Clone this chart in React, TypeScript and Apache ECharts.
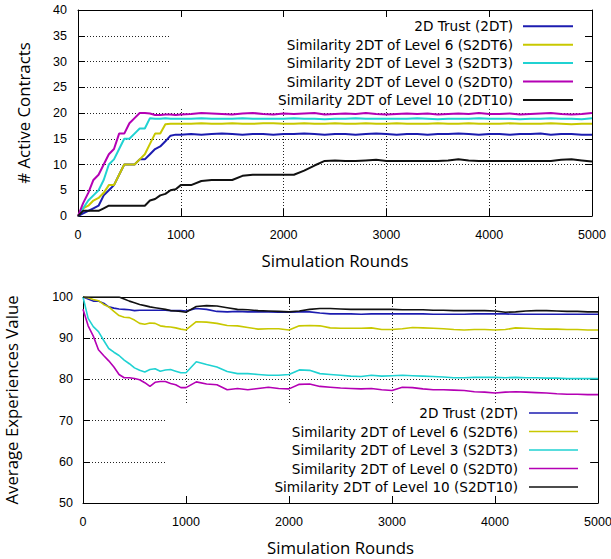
import React, { useEffect, useRef } from "react";
import * as echarts from "echarts";

const rounds = [0, 50, 100, 150, 200, 250, 300, 350, 400, 450, 500, 550, 600, 650, 700, 750, 800, 850, 900, 950, 1000,
  1100, 1200, 1300, 1400, 1500, 1600, 1700, 1800, 1900, 2000,
  2100, 2200, 2300, 2400, 2500, 2600, 2700, 2800, 2900, 3000,
  3100, 3200, 3300, 3400, 3500, 3600, 3700, 3800, 3900, 4000,
  4100, 4200, 4300, 4400, 4500, 4600, 4700, 4800, 4900, 5000];

const seriesColors = ["#1c1cb0", "#c8c800", "#20d2d2", "#b400b4", "#111111"];

const topNames = [
  "2D Trust (2DT)",
  "Similarity 2DT of Level 6 (S2DT6)",
  "Similarity 2DT of Level 3 (S2DT3)",
  "Similarity 2DT of Level 0 (S2DT0)",
  "Similarity 2DT of Level 10 (2DT10)",
];
const bottomNames = [
  "2D Trust (2DT)",
  "Similarity 2DT of Level 6 (S2DT6)",
  "Similarity 2DT of Level 3 (S2DT3)",
  "Similarity 2DT of Level 0 (S2DT0)",
  "Similarity 2DT of Level 10 (S2DT10)",
];

const xTitle = "Simulation Rounds";
const topYTitle = "# Active Contracts";
const bottomYTitle = "Average Experiences Value";

// Top chart: # Active Contracts
const active2DT = [0, 0.5, 1, 1.5, 2, 4, 5, 6, 8, 10, 10, 10, 11, 11, 12, 13, 13.5, 14.5, 15.6, 15.8, 15.8,
  15.9, 15.8, 15.9, 16.0, 15.9, 15.8, 15.9, 15.9, 15.8, 15.9,
  15.9, 16.0, 15.9, 15.8, 15.9, 15.9, 15.8, 15.9, 16.0, 15.9,
  15.8, 15.9, 15.9, 15.8, 15.9, 15.9, 16.0, 15.9, 15.8, 15.9,
  15.9, 15.8, 15.9, 15.9, 16.0, 15.8, 15.9, 15.9, 15.8, 15.8];
const activeS2DT6 = [0, 1.5, 2, 3, 3.5, 4.5, 6, 6, 8, 10, 10, 10, 11, 12, 14, 16, 16, 17.8, 17.9, 17.9, 17.9,
  17.9, 18.0, 17.9, 17.9, 18.0, 17.9, 17.9, 18.0, 18.0, 17.9,
  17.9, 18.0, 17.9, 17.9, 18.0, 17.9, 17.9, 18.0, 17.9, 17.9,
  18.0, 17.9, 17.9, 17.9, 18.0, 17.9, 17.9, 18.0, 17.9, 17.9,
  17.9, 18.0, 17.9, 17.9, 17.9, 18.0, 17.9, 17.8, 17.9, 17.9];
const activeS2DT3 = [0, 1.5, 3, 4, 5, 7, 10, 11, 13, 15, 15, 16, 17, 17, 19, 18.9, 18.9, 19, 18.9, 18.9, 18.9,
  18.9, 19.0, 18.9, 18.9, 18.9, 19.0, 18.9, 18.9, 18.9, 18.9,
  19.0, 18.9, 18.9, 18.8, 18.9, 18.9, 19.0, 18.9, 18.9, 18.9,
  18.9, 18.9, 19.0, 18.9, 18.8, 18.9, 18.9, 18.9, 19.0, 18.9,
  18.9, 18.9, 18.8, 18.9, 18.9, 19.0, 18.9, 18.9, 18.8, 19.0];
const activeS2DT0 = [0, 2.5, 4.5, 7, 8, 10, 12, 13, 16, 16, 18, 19, 20, 20, 19.9, 19.6, 19.6, 19.7, 19.7, 19.6, 19.7,
  19.8, 20.0, 19.9, 19.8, 19.7, 19.9, 20.0, 19.8, 19.7, 19.9,
  19.8, 19.9, 20.0, 19.7, 19.8, 19.9, 19.8, 20.0, 19.8, 19.7,
  19.8, 19.9, 19.8, 19.9, 19.7, 19.8, 19.9, 19.8, 20.0, 19.8,
  19.8, 19.9, 19.7, 19.8, 19.9, 20.0, 19.8, 19.7, 19.8, 20.0];
const active2DT10 = [0, 1, 1, 1, 1, 1.5, 2, 2, 2, 2, 2, 2, 2, 2, 3, 3.3, 4, 4.3, 5, 5.2, 6,
  6, 6.8, 7, 7, 7, 7.8, 8, 8, 8, 8,
  8, 8.8, 9.8, 10.7, 10.8, 10.7, 10.7, 10.8, 10.9, 10.7,
  10.7, 10.7, 10.7, 10.7, 10.7, 10.8, 11, 10.8, 10.7, 10.7,
  10.7, 10.7, 10.7, 10.7, 10.7, 10.7, 10.9, 11, 10.8, 10.6];

// Bottom chart: Average Experiences Value
const exp2DT = [100, 99.5, 99, 99, 98.5, 97.6, 97.3, 97.1, 97.0, 96.9, 96.7, 96.8, 96.8, 96.8, 96.8, 96.8, 96.8, 96.7, 96.7, 96.7, 96.6,
  97.2, 97.0, 96.5, 96.4, 96.5, 96.4, 96.4, 96.4, 96.3, 96.3,
  96.4, 96.4, 96.1, 95.9, 95.9, 95.9, 95.8, 95.9, 95.9, 95.9,
  95.9, 95.9, 95.9, 95.8, 95.8, 95.8, 95.8, 95.9, 95.9, 95.9,
  95.9, 95.8, 95.8, 95.8, 95.8, 95.8, 95.8, 95.8, 95.8, 95.8];
const expS2DT6 = [100, 99.8, 99.4, 99.1, 98.2, 97.6, 96.5, 95.5, 95.1, 95.0, 94.4, 93.6, 93.4, 93.7, 93.6, 93.0, 92.8, 92.7, 92.5, 92.2, 92.0,
  94.0, 93.9, 93.6, 93.1, 93.0, 92.6, 92.2, 92.3, 92.3, 92.0,
  93.0, 93.1, 93.0, 92.5, 92.4, 92.4, 92.4, 92.5, 92.1, 92.1,
  92.3, 92.6, 92.5, 92.4, 92.3, 92.1, 92.0, 92.1, 92.1, 92.0,
  92.1, 92.5, 92.4, 92.3, 92.2, 92.2, 92.1, 92.1, 92.0, 92.0];
const expS2DT3 = [100, 94.8, 92.8, 91.6, 89.5, 87.5, 86.6, 85.8, 84.7, 83.8, 82.8, 82.2, 81.8, 82.4, 82.6, 82.0, 82.3, 82.4, 82.0, 81.6, 81.6,
  84.3, 83.6, 83.0, 81.9, 81.4, 81.4, 81.2, 81.0, 81.0, 81.2,
  82.3, 82.2, 81.4, 81.2, 81.0, 80.8, 80.7, 81.0, 80.8, 80.9,
  81.0, 80.9, 80.8, 80.7, 80.6, 80.4, 80.4, 80.5, 80.5, 80.5,
  80.4, 80.5, 80.4, 80.4, 80.3, 80.3, 80.2, 80.2, 80.2, 80.2];
const expS2DT0 = [97, 93, 90.5, 87.2, 85.8, 84.5, 83.0, 81.2, 80.4, 80.4, 80.2, 79.9, 79.2, 78.3, 79.3, 79.5, 79.5, 79.0, 78.7, 78.0, 78.0,
  79.4, 78.9, 78.7, 77.5, 77.8, 77.5, 77.8, 78.1, 77.8, 77.7,
  78.8, 78.9, 78.3, 78.1, 77.9, 77.8, 77.7, 77.8, 77.5, 77.3,
  78.1, 78.0, 77.7, 77.5, 77.5, 77.4, 77.3, 77.0, 76.9, 76.7,
  76.9, 77.0, 76.9, 76.8, 76.7, 76.5, 76.4, 76.4, 76.3, 76.3];
const expS2DT10 = [100, 100, 100, 100, 100, 100, 100, 100, 99.5, 99.0, 98.6, 98.2, 97.9, 97.6, 97.4, 97.2, 97.0, 96.7, 96.6, 96.5, 96.3,
  97.7, 97.9, 97.8, 97.4, 97.0, 96.9, 96.7, 96.6, 96.5, 96.4,
  96.6, 97.0, 97.2, 97.2, 97.1, 97.0, 97.0, 97.0, 97.0, 97.0,
  96.9, 96.9, 96.9, 96.8, 96.8, 96.7, 96.7, 96.7, 96.7, 96.6,
  96.3, 96.4, 96.6, 96.7, 96.7, 96.6, 96.5, 96.5, 96.4, 96.4];

const topValues = [active2DT, activeS2DT6, activeS2DT3, activeS2DT0, active2DT10];
const bottomValues = [exp2DT, expS2DT6, expS2DT3, expS2DT0, expS2DT10];

const TICK_FONT = "'Liberation Sans', Arial, sans-serif";
const TITLE_FONT = "'Open Sans', 'Noto Sans', sans-serif";
const KEY_FONT = "'DejaVu Sans', sans-serif";

export default function App() {
  const ref = useRef<HTMLDivElement>(null);

  useEffect(() => {
    const chart = echarts.init(ref.current!, null, { renderer: "svg" });

    const gridLine = { show: true, lineStyle: { color: "#222", width: 1, type: [1, 2] as any } };
    const frameLine = { show: true, onZero: false, lineStyle: { color: "#000", width: 1 } };
    const tickIn = { show: true, inside: true, length: 7, lineStyle: { color: "#000", width: 1 } };
    const tickLabel = (margin: number) => ({
      show: true, margin, color: "#000", fontFamily: TICK_FONT, fontSize: 12.5,
      formatter: (v: number) => String(v),
    });
    const titleStyle = { color: "#000", fontFamily: TITLE_FONT, fontSize: 16.8 };

    const mkX = (gridIndex: number, main: boolean) => ({
      type: "value", gridIndex, min: 0, max: 5000, interval: 1000,
      position: main ? "bottom" : "top",
      axisLine: frameLine, axisTick: tickIn,
      axisLabel: main ? tickLabel(12) : { show: false },
      splitLine: main ? gridLine : { show: false },
      name: main ? xTitle : "", nameLocation: "middle", nameGap: 36,
      nameTextStyle: titleStyle,
    });
    const mkY = (gridIndex: number, main: boolean, min: number, max: number, interval: number, name: string, nameGap: number, margin: number) => ({
      type: "value", gridIndex, min, max, interval,
      position: main ? "left" : "right",
      axisLine: frameLine, axisTick: tickIn,
      axisLabel: main ? tickLabel(margin) : { show: false },
      splitLine: main ? gridLine : { show: false },
      name: main ? name : "", nameLocation: "middle", nameGap,
      nameTextStyle: titleStyle,
    });

    const series: any[] = [];
    topValues.forEach((vals, i) => {
      series.push({
        type: "line", name: topNames[i], xAxisIndex: 0, yAxisIndex: 0,
        data: rounds.map((r, k) => [r, vals[k]]),
        showSymbol: false, symbol: "none",
        lineStyle: { color: seriesColors[i], width: 2 },
        itemStyle: { color: seriesColors[i] },
      });
    });
    bottomValues.forEach((vals, i) => {
      series.push({
        type: "line", name: bottomNames[i], xAxisIndex: 2, yAxisIndex: 2,
        data: rounds.map((r, k) => [r, vals[k]]),
        showSymbol: false, symbol: "none",
        lineStyle: { color: seriesColors[i], width: 1.6 },
        itemStyle: { color: seriesColors[i] },
      });
    });

    const keyElements = (names: string[], textRight: number, x1: number, x2: number, y0: number, step: number, lw: number) => {
      const els: any[] = [];
      names.forEach((n, i) => {
        const y = y0 + i * step;
        els.push({
          type: "text", z: 5, x: textRight, y,
          style: { text: n, fill: "#000", font: `13.6px ${KEY_FONT}`, textAlign: "right", textVerticalAlign: "middle" },
        });
        els.push({
          type: "line", z: 5, shape: { x1, y1: y, x2, y2: y },
          style: { stroke: seriesColors[i], lineWidth: lw },
        });
      });
      return els;
    };

    const option: any = {
      animation: false,
      backgroundColor: "#fff",
      grid: [
        { left: 78, top: 10, width: 514, height: 206, containLabel: false, outerBoundsMode: "none" },
        { left: 83, top: 297, width: 515, height: 206, containLabel: false, outerBoundsMode: "none" },
      ],
      xAxis: [mkX(0, true), mkX(0, false), mkX(1, true), mkX(1, false)],
      yAxis: [
        mkY(0, true, 0, 40, 5, topYTitle, 46, 11),
        mkY(0, false, 0, 40, 5, "", 0, 0),
        mkY(1, true, 50, 100, 10, bottomYTitle, 63, 10),
        mkY(1, false, 50, 100, 10, "", 0, 0),
      ],
      series,
      graphic: [
        { type: "rect", z: 1, shape: { x: 170, y: 18, width: 414, height: 91 }, style: { fill: "#fff" } },
        { type: "rect", z: 1, shape: { x: 167, y: 404, width: 421, height: 92 }, style: { fill: "#fff" } },
        ...keyElements(topNames, 513, 523, 573, 26.3, 18.4, 2),
        ...keyElements(bottomNames, 518, 529, 578, 413, 18.5, 1.6),
      ],
    };
    chart.setOption(option);
    return () => chart.dispose();
  }, []);

  return (
    <div
      ref={ref}
      style={{ position: "absolute", left: 0, top: 0, width: 611, height: 559, background: "#fff" }}
    />
  );
}
